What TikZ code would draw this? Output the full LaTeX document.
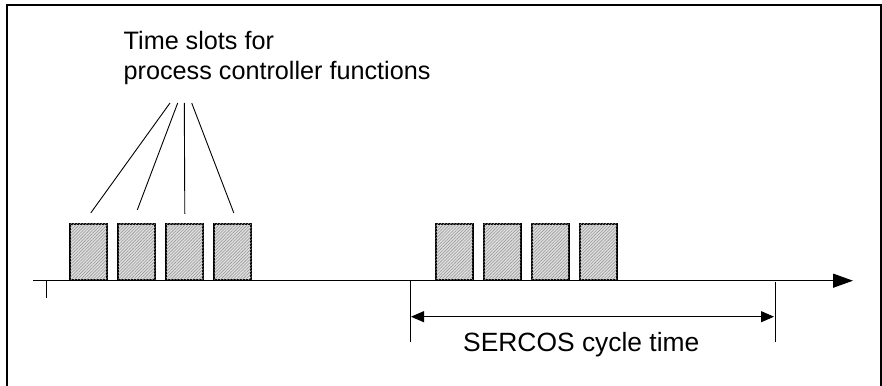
\documentclass[tikz,border=0pt]{standalone}
\usepackage{fontspec}
\setmainfont{Liberation Sans}
\usetikzlibrary{arrows.meta,patterns.meta}
\begin{document}
\begin{tikzpicture}[x=1pt,y=-1pt,
  slot/.style={draw,line width=1.8pt,minimum width=37pt,minimum height=56pt,inner sep=0pt,
    fill=gray!25,postaction={pattern={Lines[angle=45,distance=2.2pt,line width=0.6pt]},pattern color=gray!80}},
  lbl/.style={font=\fontsize{25.2}{30}\selectfont,inner sep=0pt},
  thin/.style={line width=0.9pt},
]
\useasboundingbox (0,0) rectangle (882,385);
% frame
\draw[line width=1.8pt] (7,386) -- (7,5) -- (881,5) -- (881,386);
% slots
\foreach \i/\x in {1/88.8,2/136.8,3/184.8,4/232.8}{
  \node[slot,anchor=south] (a\i) at (\x,280.7) {};
}
\foreach \i/\x in {1/454.2,2/502.2,3/550.2,4/598.2}{
  \node[slot,anchor=south] (b\i) at (\x,280.7) {};
}
% axis
\coordinate (ax0) at (33,280.7);
\coordinate (ax1) at (853,280.7);
\draw[line width=1.4pt,-{Triangle[length=20pt,width=14pt]}] (ax0) -- (ax1);
% ticks
\coordinate (t0a) at (46,280.7);
\coordinate (t0b) at (46,298);
\draw[thin] (t0a) -- (t0b);
\coordinate (t1a) at (410,280.7);
\coordinate (t1b) at (410,341.7);
\draw[thin] (t1a) -- (t1b);
\coordinate (t2a) at (775,281.5);
\coordinate (t2b) at (775,341.7);
\draw[thin] (t2a) -- (t2b);
% dimension
\coordinate (d0) at (411,316.7);
\coordinate (d1) at (774,316.7);
\draw[line width=1.1pt,{Triangle[length=13pt,width=11pt]}-{Triangle[length=13pt,width=11pt]}] (d0) -- (d1);
\node[lbl,font=\fontsize{26.4}{30}\selectfont,anchor=base west] (cyc) at (463,351.7) {SERCOS cycle time};
% title
\node[lbl,anchor=base west,align=left] (title) at (123.5,79.3) {Time slots for\\process controller functions};
% leader lines
\coordinate (p1) at (170,103);
\coordinate (p2) at (177.7,103);
\coordinate (p3) at (184.3,103);
\coordinate (p4) at (191.7,103);
\draw[thin] (p1) -- ([xshift=2pt,yshift=10pt]a1.north);
\draw[thin] (p2) -- ([xshift=0.5pt,yshift=13pt]a2.north);
\draw[thin] (p3) -- ([yshift=9pt]a3.north);
\draw[thin] (p4) -- ([xshift=1pt,yshift=10pt]a4.north);
\end{tikzpicture}
\end{document}
